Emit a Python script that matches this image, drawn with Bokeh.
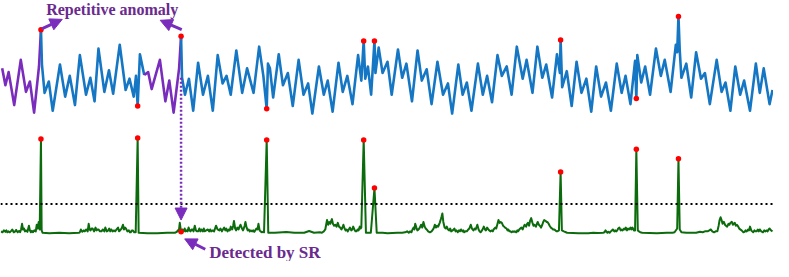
from bokeh.plotting import figure
from bokeh.models import Range1d, Arrow, NormalHead, Label, Span
from bokeh.embed import file_html
from bokeh.resources import INLINE

# ---- top series: raw KPI time series (time index, value) ----
ts_t = [1.7, 5, 8.3, 14, 20.7, 26, 30, 34.3, 39.3, 41.3, 42.3, 45, 49.3, 53.3, 60.7, 66, 70.7, 76, 81,
        87.3, 91.7, 96, 100, 106, 110.7, 115, 121.7, 127.7, 131.7, 136, 138.3, 140, 142.3, 146.7, 150.7,
        154.3, 162.7, 168.3, 172.3, 176.7, 182.3, 184.3, 185.3, 188.3, 192.3, 196.7, 201.7, 206.7, 211.7,
        216.7, 221.7, 226.7, 230.7, 235, 240.7, 246.7, 251.7, 258.3, 264, 268.3, 271.7, 273, 275, 278.3,
        284, 288.3, 293.3, 298.3, 304.3, 309.3, 314, 318.3, 325, 330, 334, 339, 345, 349.3, 354, 359.3,
        365, 368.3, 370.7, 372.3, 375, 378.3, 381.7, 382.7, 386, 390, 395, 399.3, 405.7, 410, 414.3, 420,
        425.7, 430, 435, 440, 446, 451.7, 456.7, 461, 467.3, 471.7, 476, 480.7, 487.3, 492.3, 496.7,
        501.7, 507.3, 511.7, 516.7, 521.7, 527, 533, 537, 543, 548, 553, 557, 563, 568, 571, 571.7, 573.3,
        578, 583, 588, 593, 598, 603, 608, 613, 618, 623, 629, 634, 638, 643, 647.7, 649, 650, 654, 658,
        663, 669, 674, 678, 684, 689.3, 690.7, 692, 693.3, 695, 700, 705, 710, 715, 719, 724, 731, 736,
        740, 745, 750, 755, 759, 765, 771, 775, 779, 785, 788]
ts_v = [53, 35, 49, 14, 62, 28, 39, 6, 55, 94, 57, 27, 39, 8, 57, 23, 45, 14, 67,
        25, 43, 18, 74, 28, 51, 26, 78, 30, 42, 23, 45, 13, 68, 46, 49,
        31, 62, 18, 40, 6, 53, 87, 43, 25, 42, 8, 59, 25, 45,
        8, 67, 37, 45, 25, 72, 27, 53, 27, 76, 45, 10, 58, 53, 22,
        68, 35, 48, 13, 62, 25, 37, 5, 55, 25, 40, 7, 59, 28, 45, 15,
        67, 40, 82, 42, 55, 25, 82, 48, 75, 48, 60, 25, 73, 43, 58, 18,
        72, 40, 52, 15, 60, 25, 37, 5, 57, 25, 38, 8, 58, 25, 45,
        17, 67, 45, 55, 25, 76, 42, 62, 27, 76, 43, 57, 22, 68, 48, 83, 33,
        50, 13, 60, 27, 42, 7, 55, 23, 38, 8, 58, 27, 45, 15, 61, 21, 67, 38, 55,
        25, 74, 45, 62, 28, 78, 70, 108, 72, 43, 58, 22, 70, 42, 48, 15, 62, 28,
        38, 8, 55, 25, 40, 8, 58, 27, 53, 15, 30]

# ---- bottom series: saliency map from spectral residual ----
sr_t = [0.5, 2, 3.5, 5, 6, 7, 8, 9.5, 11, 12, 13.5, 15, 16, 17.5, 19, 20, 21, 22, 23, 24, 25, 26, 27.5,
        29, 30, 31, 32, 33, 34.5, 36, 37, 38, 39, 40, 41.3, 42, 43,
        50, 60, 70, 80, 81, 82, 83.5, 85, 86, 87.5, 89, 90, 91, 92, 93, 94, 95.5, 97, 98, 99, 100, 101.5,
        103, 104.5, 106, 107, 108.5, 110, 111, 112, 113, 114.5, 116, 117, 118.5, 120, 121, 122, 123.5,
        125, 126, 127, 128, 129.5, 131, 132, 133, 134, 135, 136.5, 138, 140, 141,
        150, 160, 170, 178, 180, 181, 182, 183, 184.3, 185.5, 187, 188, 189, 190, 191, 192, 193, 194,
        195, 196, 197, 198.3, 199.5, 200.5, 201.7, 203, 204, 205, 206.5, 207.5, 208.3, 210, 211.7, 213,
        214, 215, 216.5, 218, 219, 220, 221.5, 223.3, 224.5, 226, 227, 228.3, 229.5, 230.5, 231.7, 233,
        234, 235, 236.5, 237.5, 238.3, 239.5, 240.5, 241.7, 243, 244, 245, 246.5, 247.5, 248.3, 249.2,
        250, 251.2, 252.3, 253.3, 254.5, 255.6, 256.7, 258, 259, 260, 261.2, 262.3, 263.3, 264.5, 265.5,
        266.7, 268, 269,
        271.7, 273.3, 280, 291.7, 300, 310, 315, 320, 326, 328, 330, 331.5, 333.3, 334.5, 335.5, 336.7,
        337.5, 338.3, 339.3, 340.5, 341.7, 343, 344.3, 345.5, 346.7, 348, 349, 350, 351.2, 352.3, 353.3,
        354.5, 355.5, 356.7, 358, 359, 360, 361.2, 362.3, 363.3, 364.5, 365.5, 366.7, 367.5, 368.3,
        370.7, 373, 378, 381.7, 384, 390, 395,
        405, 410, 413, 415, 416.7, 418, 419.5, 420.5, 421.7, 422.5, 423.3, 424.5, 425.5, 426.7, 428,
        429.3, 430.5, 431.7, 433, 434, 435, 436.5, 438.3, 440, 441.5, 442.5, 443.3, 444.5, 445.5, 446.7,
        447.5, 448.3, 449.5, 450.3, 451, 452, 453.3, 454.5, 455.5, 456.7, 458, 459, 460, 461.5, 462.5,
        463.3, 464.5, 465.5, 466.7, 468, 469, 470,
        471.5, 472.5, 473.3, 474.5, 476, 477.5, 478.5, 480, 481.2, 482.7, 484, 485, 486.7, 488, 489, 490,
        491.5, 492.5, 493.3, 494.5, 495.5, 496.7, 498, 499, 500, 501.5, 502.5, 503.3, 505, 506, 507.3,
        508.3, 509.5, 510.5, 511.7, 513, 514, 515, 516.5, 517.5, 518.3, 519.5, 520.5, 521.7, 523, 524,
        525, 526.5, 527.5, 528.3, 529.5, 530.5,
        531.7, 533, 534, 535, 536.5, 537.5, 538.3, 539.5, 540.5, 541.7, 543, 544, 545, 546.5, 547.5,
        548.3, 549.5, 550.5, 551.7, 553, 554, 555, 556.5, 557.5, 558.3, 559.5, 560.5, 561.7, 563, 564,
        565, 566.5, 567.5, 568.3, 570, 571.7, 573, 575, 578.3, 590, 600, 605, 610,
        615, 616.5, 617.5, 618.3, 619.5, 620.5, 621.7, 623, 624, 625, 626.5, 627.5, 628.3, 629.5, 630.5,
        631.7, 633, 634, 635, 636.5, 637.5, 638.3, 639.5, 640.5, 641.7, 643, 644, 645, 646.5, 647.7,
        649, 650.5, 651.7, 653, 655, 670, 680, 686, 688, 690.7, 692, 693.3, 695, 700,
        710, 714, 716.7, 719, 721.7, 723.5, 725, 726.5, 728.3, 730, 731.7, 733, 734, 735, 736, 737,
        738.3, 739.5, 740.5, 741.7, 743, 744, 745, 746.5, 747.5, 748.3, 749.5, 750.5, 751.7, 753, 754,
        755, 756.5, 757.5, 758.3, 759.5, 760.5, 761.7, 763, 764, 765, 766.3, 767.3, 768.3, 769.5, 770.5,
        771.7, 773, 774, 775, 776.5, 777.5, 778.3, 779.5, 780.5, 781.7, 783, 784, 785, 786.5, 788]
sr_v = [2, 1, 3, 1.5, 3, 1, 2, 1, 2.5, 4, 1, 2, 3.5, 1, 2.5, 1, 4, 10, 4, 5, 2, 3, 1.5,
        8, 3, 1, 2.5, 1, 3, 2, 9, 5, 12, 4, 100, 3, 0.5,
        0, 0.5, 0, 0.5, 1, 4, 1.5, 3, 2, 4, 2, 10, 4, 3, 5, 5, 2, 6, 3, 4, 4, 2,
        2, 4, 2, 6, 2, 3, 5, 2, 4, 2, 3, 2, 4, 6, 2, 3, 5,
        9, 4, 6, 5, 2, 3, 1, 1, 3, 3, 1, 1, 101, 0.5,
        0, 0, 0.5, 0.5, 1.5, 3, 2, 11, 1.5, 4, 2, 5, 2, 3, 2, 6, 3, 2,
        4, 4, 2, 8, 3, 2, 2, 5, 2, 4, 2, 5, 2, 3, 4, 2,
        4, 2, 3, 2, 5, 8, 4, 3, 5, 2, 4, 6, 3, 5, 2, 4,
        3, 7, 4, 8, 13, 5, 3, 6, 4, 7, 9, 5, 3, 5, 8,
        12, 6, 3, 4, 2, 3, 2, 3, 1.5, 3, 5, 4, 10, 3, 2,
        1, 1.5, 1,
        99, 0.5, 0.5, 1.3, 0.5, 0.5, 2.3, 0.5, 1, 0.5, 2, 4, 14, 9, 12, 10,
        13, 15, 10, 8, 9, 7, 11, 7, 6, 4, 6, 9, 5, 3, 4,
        2, 4, 6, 3, 4, 7, 4, 2, 2, 4, 3, 7, 5, 6,
        99, 0.5, 0.5, 48, 0.5, 0.5, 0,
        0.5, 0.5, 1, 2, 0.5, 2, 1, 4, 6, 4, 10, 6, 3, 4, 6,
        9, 6, 12, 7, 5, 4, 2, 1, 2, 4, 6, 9, 6, 8, 7,
        9, 11, 15, 18, 21, 12, 6, 5, 7, 4, 3, 5, 2, 3, 4,
        5, 2, 3, 1, 3, 2, 4,
        2, 3, 1, 2, 2, 4, 5, 9, 5, 3, 5, 4, 9, 4, 2, 1,
        3, 5, 7, 4, 3, 6, 4, 3, 2, 3, 2, 4, 6, 5, 10,
        14, 11, 12, 11, 8, 7, 6, 5, 3, 4, 2, 2, 1, 2, 1.5,
        2, 1, 3, 2, 4, 5,
        6, 4, 7, 9, 7, 10, 11, 8, 13, 16, 11, 8, 9, 7, 10,
        12, 9, 8, 6, 9, 12, 14, 13, 12, 12, 10, 8, 6, 5, 4,
        4, 3, 2, 2, 3, 65, 3, 2, 0.5, 0, 0, 0.5, 0.3,
        0.5, 1, 3, 2, 0.5, 1.5, 0.5, 2, 3, 4, 2, 3, 2, 3, 5,
        6, 3, 4, 3, 5, 4, 6, 3, 5, 4, 6, 4, 6, 3, 3,
        89, 3, 2, 1, 0.5, 0, 0.5, 0.5, 1, 5, 79, 4, 1, 0.5,
        0.5, 1.5, 1, 2, 2, 3, 4, 2, 1, 2, 2, 8, 14, 17, 14, 10,
        12, 9, 8, 7, 10, 9, 11, 12, 9, 10, 11, 8, 9, 7, 5,
        4, 3, 2, 1, 1.5, 3, 2, 4, 3, 7, 3, 2, 1, 3, 2,
        2, 4, 2, 4, 2, 1.5, 1, 3, 2, 3, 2, 4, 5, 3, 2]
assert len(ts_t) == len(ts_v) and len(sr_t) == len(sr_v), (len(ts_t), len(ts_v), len(sr_t), len(sr_v))

anomaly_t = [41.3, 140, 184.3, 271.7, 370.7, 381.7, 571.7, 649, 692]
sr_threshold = 31
repetitive_windows = [(0, 41.3), (146.7, 184.3)]

# ---- styling / layout ----
BLUE = "#1576c4"
PURPLE = "#7a2cbc"
TEXT_PURPLE = "#6a2a8e"
GREEN = "#0c6b0c"
TOP_OFF = 152
SR_OFF = 30

p = figure(width=773, height=261, output_backend="svg", toolbar_location=None,
           x_range=Range1d(0, 789), y_range=Range1d(0, 277), min_border=0)
p.axis.visible = False
p.grid.visible = False
p.outline_line_color = None
p.background_fill_color = "white"


def in_window(a, b):
    return any(lo <= a and b <= hi for lo, hi in repetitive_windows)

# split top series into coloured runs
runs = []
cur_col = None
for i in range(len(ts_t) - 1):
    col = PURPLE if in_window(ts_t[i], ts_t[i + 1]) else BLUE
    if col != cur_col:
        runs.append((col, [ts_t[i]], [ts_v[i] + TOP_OFF]))
        cur_col = col
    runs[-1][1].append(ts_t[i + 1])
    runs[-1][2].append(ts_v[i + 1] + TOP_OFF)

for col, xs, ys in runs:
    p.line(xs, ys, line_color=col, line_width=2.6, line_join="round")

p.line(sr_t, [v + SR_OFF for v in sr_v], line_color=GREEN, line_width=2, line_join="round")

p.add_layout(Span(location=sr_threshold + SR_OFF, dimension="width", line_color="black",
                  line_width=2, line_dash="2 3"))

ts_map = dict(zip(ts_t, ts_v))
sr_map = dict(zip(sr_t, sr_v))
p.scatter(anomaly_t, [ts_map[t] + TOP_OFF for t in anomaly_t], size=5.5, color="red", line_color=None)
p.scatter(anomaly_t, [sr_map[t] + SR_OFF for t in anomaly_t], size=5.5, color="red", line_color=None)

# annotations
p.add_layout(Label(x=114, y=276, text="Repetitive anomaly", text_align="center",
                   text_baseline="top", text_font="Liberation Serif", text_font_style="bold",
                   text_font_size="16px", text_color=TEXT_PURPLE))
p.add_layout(Label(x=213, y=10, text="Detected by SR", text_align="left",
                   text_baseline="middle", text_font="Liberation Serif", text_font_style="bold",
                   text_font_size="17px", text_color=TEXT_PURPLE))


def head():
    return NormalHead(size=12, fill_color=PURPLE, line_color=PURPLE)

p.add_layout(Arrow(x_start=42, y_start=247, x_end=63, y_end=257, end=head(),
                   line_color=PURPLE, line_width=3))
p.add_layout(Arrow(x_start=185, y_start=246, x_end=163, y_end=256, end=head(),
                   line_color=PURPLE, line_width=3))
p.add_layout(Arrow(x_start=209, y_start=13, x_end=188, y_end=24, end=head(),
                   line_color=PURPLE, line_width=3))
p.add_layout(Arrow(x_start=184.3, y_start=195, x_end=184.3, y_end=44, end=head(),
                   line_color=PURPLE, line_width=2.5, line_dash="2 2"))

open("out.html", "w").write(file_html(p, INLINE))
